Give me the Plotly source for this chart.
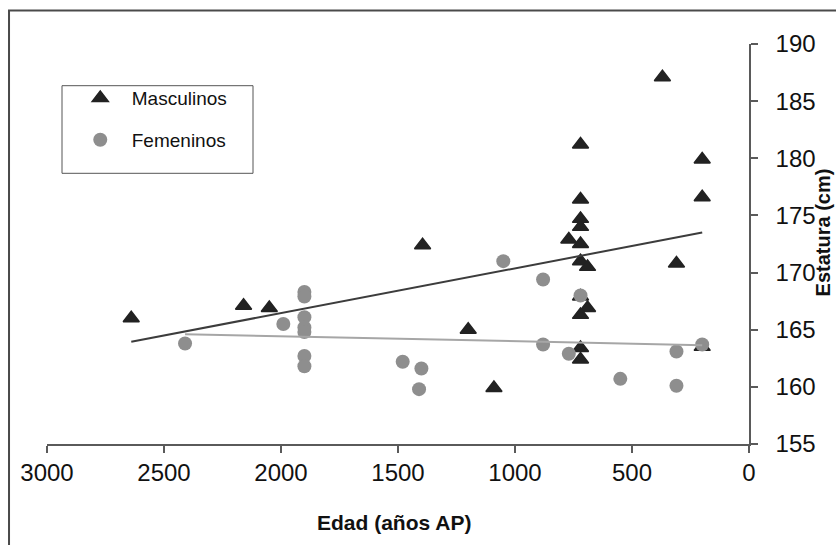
import plotly.graph_objects as go

# ---- Data ----
masc_edad = [2640, 2160, 2050, 1395, 1200, 1090, 770,
             720, 720, 720, 720, 720, 720, 720, 720, 720, 720,
             690, 690, 370, 310, 200, 200, 200]
masc_estatura = [166.0, 167.1, 166.9, 172.4, 165.0, 159.9, 172.9,
                 181.2, 176.4, 174.7, 174.0, 172.5, 171.0, 167.9, 166.3, 163.4, 162.4,
                 170.5, 166.9, 187.1, 170.8, 179.9, 176.6, 163.5]

fem_edad = [2410, 1990, 1900, 1900, 1900, 1900, 1900, 1900, 1900,
            1480, 1400, 1410, 1050, 880, 880, 770, 720, 550, 310, 310, 200]
fem_estatura = [163.8, 165.5, 168.3, 167.9, 166.1, 165.2, 164.8, 162.7, 161.8,
                162.2, 161.6, 159.8, 171.0, 169.4, 163.7, 162.9, 168.0, 160.7, 163.1, 160.1, 163.7]

# trend lines (end points)
masc_trend_x = [2640, 200]
masc_trend_y = [163.95, 173.5]
fem_trend_x = [2410, 200]
fem_trend_y = [164.6, 163.65]

x_ticks = [3000, 2500, 2000, 1500, 1000, 500, 0]
y_ticks = [155, 160, 165, 170, 175, 180, 185, 190]

FONT = "Arial, 'Liberation Sans', sans-serif"
AXIS_COLOR = "#5a5a5a"

fig = go.Figure()

fig.add_trace(go.Scatter(
    x=masc_edad, y=masc_estatura, mode="markers", name="Masculinos",
    legendgroup="m",
    marker=dict(symbol="triangle-up", size=14, color="#222222",
                line=dict(color="#222222", width=1.5)),
))
fig.add_trace(go.Scatter(
    x=fem_edad, y=fem_estatura, mode="markers", name="Femeninos",
    legendgroup="f",
    marker=dict(symbol="circle", size=14, color="#8e8e8e",
                line=dict(width=0)),
))
fig.add_trace(go.Scatter(
    x=masc_trend_x, y=masc_trend_y, mode="lines", showlegend=False,
    line=dict(color="#3c3c3c", width=2), hoverinfo="skip",
))
fig.add_trace(go.Scatter(
    x=fem_trend_x, y=fem_trend_y, mode="lines", showlegend=False,
    line=dict(color="#a6a6a6", width=2), hoverinfo="skip",
))

fig.update_layout(
    width=836, height=545, autosize=False,
    margin=dict(l=47, r=87, t=44, b=101),
    paper_bgcolor="white", plot_bgcolor="white",
    font=dict(family=FONT, color="#111111"),
    showlegend=True,
    legend=dict(
        x=0.031, y=0.912, xanchor="left", yanchor="top",
        bgcolor="rgba(0,0,0,0)", borderwidth=0,
        font=dict(family=FONT, size=19, color="#111111"),
        itemwidth=53, tracegroupgap=14,
    ),
    xaxis=dict(
        range=[3000, 0], tickvals=x_ticks, ticktext=[str(v) for v in x_ticks],
        showgrid=False, zeroline=False, showline=True,
        linecolor=AXIS_COLOR, linewidth=1.5,
        ticks="outside", ticklen=7, tickcolor=AXIS_COLOR, tickwidth=1.5,
        tickfont=dict(family=FONT, size=24, color="#111111"),
        ticklabelstandoff=-1,
    ),
    yaxis=dict(
        range=[155, 190], tickvals=y_ticks, side="right",
        showgrid=False, zeroline=False, showline=True,
        linecolor=AXIS_COLOR, linewidth=1.5,
        ticks="outside", ticklen=7, tickcolor=AXIS_COLOR, tickwidth=1.5,
        tickfont=dict(family=FONT, size=24, color="#111111"),
        ticklabelstandoff=13,
    ),
    shapes=[
        # outer frame
        dict(type="rect", xref="paper", yref="paper",
             x0=-0.0541, x1=1.2, y0=-0.4, y1=1.08375,
             line=dict(color="#4a4a4a", width=2), fillcolor="rgba(0,0,0,0)"),
        # legend box
        dict(type="rect", xref="paper", yref="paper",
             x0=0.02137, x1=0.29345, y0=0.67675, y1=0.89575,
             line=dict(color="#555555", width=1), fillcolor="rgba(0,0,0,0)"),
    ],
    annotations=[
        dict(text="<b>Edad (años AP)</b>", xref="paper", yref="paper",
             x=0.4943, y=-0.195, xanchor="center", yanchor="middle",
             showarrow=False, font=dict(family=FONT, size=21, color="#111111")),
        dict(text="<b>Estatura (cm)</b>", xref="paper", yref="paper",
             x=1.106, y=0.53, xanchor="center", yanchor="middle",
             textangle=-90, showarrow=False,
             font=dict(family=FONT, size=20, color="#111111")),
    ],
)

fig.write_html("out.html",
               config={"displayModeBar": False},
               post_script="document.body.style.margin='0';document.body.style.padding='0';")
